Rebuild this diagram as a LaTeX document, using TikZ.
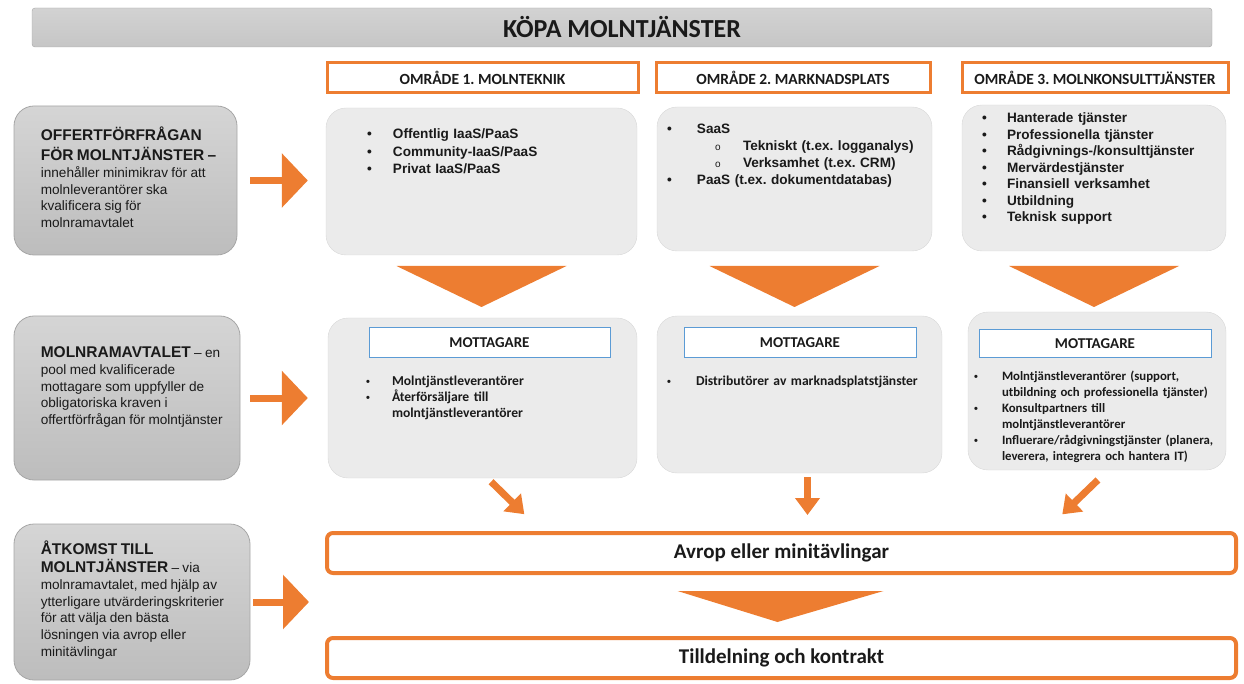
\documentclass[tikz,border=0pt]{standalone}
\usepackage{fontspec}
\setmainfont{Liberation Sans}
\newfontfamily\carlito{Carlito}
\usetikzlibrary{arrows.meta,positioning,calc}
\frenchspacing
\definecolor{accent}{HTML}{ED7D31}
\definecolor{panel}{HTML}{EBEBEB}
\definecolor{edge}{HTML}{A6A6A6}
\definecolor{sky}{HTML}{5B9BD5}
\definecolor{ink}{HTML}{1A1A1A}
\tikzset{titlebar/.style={draw=edge,top color=gray!35,bottom color=gray!45,rounded corners=3pt,
 minimum width=1180pt,minimum height=39pt,font=\carlito\bfseries\fontsize{26}{28}\selectfont},
 sidebox/.style={draw=edge,top color=gray!33,bottom color=gray!52,rounded corners=20pt,line width=.8pt},
 sidetxt/.style={inner sep=0pt,text width=215pt,align=left},
 area/.style={draw=accent,fill=white,line width=3pt,minimum height=30pt,
 font=\carlito\bfseries\fontsize{15.5}{17}\selectfont},
 panelbox/.style={fill=panel,draw=panel!92!black,line width=.4pt,rounded corners=20pt},
 listtxt/.style={inner sep=0pt,text width=260pt,align=left,font=\bfseries\fontsize{13.6}{16.5}\selectfont},
 recvtxt/.style={inner sep=0pt,text width=260pt,align=left,font=\carlito\bfseries\fontsize{13.6}{16}\selectfont},
 recv/.style={draw=sky,fill=white,line width=1pt,font=\carlito\bfseries\fontsize{15}{17}\selectfont},
 stage/.style={draw=accent,fill=white,line width=4pt,rounded corners=6pt,minimum width=909pt,
 minimum height=40pt,font=\carlito\bfseries\fontsize{21}{23}\selectfont},
 bigarr/.style={-{Triangle[width=53pt,length=26pt]},line width=7pt,draw=accent},
 smallarr/.style={-{Triangle[width=24pt,length=17pt]},line width=7pt,draw=accent}}
\newcommand{\bul}[1][26pt]{\makebox[#1][l]{\textbullet}}
\newcommand{\smallbul}[1][26pt]{\makebox[#1][l]{\rmfamily\fontsize{11}{11}\selectfont\textbullet}}

\begin{document}
\begin{tikzpicture}[x=1pt,y=-1pt,text=ink]
\useasboundingbox (0,0) rectangle (1244,684);
\node[titlebar] (title) at (622,27.5) {KÖPA MOLNTJÄNSTER};
\node[area,minimum width=311pt] (hdr1) at (482.5,78) {OMRÅDE 1. MOLNTEKNIK};
\node[area,minimum width=274pt] (hdr2) at (793,78) {OMRÅDE 2. MARKNADSPLATS};
\node[area,minimum width=266pt] (hdr3) at (1095,78) {OMRÅDE 3. MOLNKONSULTTJÄNSTER};
\node[panelbox,minimum width=311pt,minimum height=147pt] (mt1) at (481.5,181.5) {};
\node[panelbox,minimum width=275pt,minimum height=144pt] (mt2) at (794.5,179) {};
\node[panelbox,minimum width=264pt,minimum height=146pt] (mt3) at (1094,178) {};
\node[listtxt,font=\bfseries\fontsize{13.6}{17.5}\selectfont,below right=21pt and 41pt of mt1.north west] (mt1list)
 {\bul Offentlig IaaS/PaaS\\\bul Community-IaaS/PaaS\\\bul Privat IaaS/PaaS};
\node[listtxt,font=\bfseries\fontsize{13.6}{17}\selectfont,below right=17pt and 10pt of mt2.north west] (mt2list)
 {\bul[30pt]SaaS\\\hspace*{76pt}\llap{\makebox[28pt][l]{\mdseries\fontsize{10}{10}\selectfont o}}Tekniskt (t.ex. logganalys)\\
 \hspace*{76pt}\llap{\makebox[28pt][l]{\mdseries\fontsize{10}{10}\selectfont o}}Verksamhet (t.ex. CRM)\\\bul[30pt]PaaS (t.ex. dokumentdatabas)};
\node[listtxt,below right=8pt and 20pt of mt3.north west] (mt3list)
 {\bul[25pt]Hanterade tjänster\\\bul[25pt]Professionella tjänster\\\bul[25pt]Rådgivnings-/konsulttjänster\\
 \bul[25pt]Mervärdestjänster\\\bul[25pt]Finansiell verksamhet\\\bul[25pt]Utbildning\\\bul[25pt]Teknisk support};
\foreach \n in {1,2,3}
 \fill[accent] ($(mt\n.south|-0,266)+(-85,0)$) -- ($(mt\n.south|-0,266)+(85,0)$) -- ($(mt\n.south|-0,307)$) -- cycle;
\node[panelbox,minimum width=309pt,minimum height=160pt] (mm1) at (482.5,398) {};
\node[panelbox,minimum width=285pt,minimum height=157pt] (mm2) at (799.5,394.5) {};
\node[panelbox,minimum width=258pt,minimum height=158pt] (mm3) at (1097,391) {};
\node[recv,minimum width=241pt,minimum height=29pt] (rc1) at (489.5,342.5) {MOTTAGARE};
\node[recv,minimum width=232pt,minimum height=29pt] (rc2) at (800,342.5) {MOTTAGARE};
\node[recv,minimum width=232pt,minimum height=27pt] (rc3) at (1095,343.5) {MOTTAGARE};
\node[recvtxt,below right=18pt and 38pt of mm1.north west|-rc1.south] (mm1list)
 {\smallbul Molntjänstleverantörer\\\smallbul Återförsäljare till\\\hspace*{26pt}molntjänstleverantörer};
\node[recvtxt,below right=18pt and 10pt of mm2.north west|-rc2.south] (mm2list)
 {\smallbul[29pt]Distributörer av marknadsplatstjänster};
\node[recvtxt,font=\carlito\bfseries\fontsize{12.8}{16}\selectfont,below right=13pt and 6pt of mm3.north west|-rc3.south] (mm3list)
 {\smallbul[28pt]Molntjänstleverantörer (support,\\\hspace*{28pt}utbildning och professionella tjänster)\\
 \smallbul[28pt]Konsultpartners till\\\hspace*{28pt}molntjänstleverantörer\\
 \smallbul[28pt]Influerare/rådgivningstjänster (planera,\\\hspace*{28pt}leverera, integrera och hantera IT)};
\node[stage] (call) at (781.5,553) {Avrop eller minitävlingar};
\node[stage] (award) at (781.5,658) {Tilldelning och kontrakt};
\fill[accent] ($(call.south)+(-104,16)$) -- ($(call.south)+(102,16)$) -- ($(call.south)+(-4,47)$) -- cycle;
\draw[smallarr,shorten <=5pt,shorten >=24pt] ([xshift=5pt]mm1.south) -- ([xshift=-240pt]call.north);
\draw[smallarr,shorten <=4pt,shorten >=16pt] ([xshift=8pt]mm2.south) -- ([xshift=8pt]mm2.south|-call.north);
\draw[smallarr,shorten <=14pt,shorten >=24pt] ([xshift=11pt]mm3.south) -- ([xshift=263.5pt]call.north);
\node[sidebox,minimum width=223pt,minimum height=149pt] (req) at (125.5,180.5) {};
\node[sidebox,minimum width=226pt,minimum height=164pt] (pool) at (127,398) {};
\node[sidebox,minimum width=236pt,minimum height=156pt] (access) at (132,602) {};
\node[sidetxt,right=27pt of req.west,yshift=3pt] (reqtxt)
 {\bfseries\fontsize{15.5}{20}\selectfont OFFERTFÖRFRÅGAN\\FÖR MOLNTJÄNSTER –\par
 \mdseries\fontsize{13.6}{16.7}\selectfont innehåller minimikrav för att\\molnleverantörer ska\\kvalificera sig för\\molnramavtalet\par};
\node[sidetxt,right=27pt of pool.west,yshift=11pt] (pooltxt)
 {\fontsize{13.6}{16.7}\selectfont{\bfseries\fontsize{15.5}{17}\selectfont MOLNRAMAVTALET} – en\\pool med kvalificerade\\
 mottagare som uppfyller de\\obligatoriska kraven i\\offertförfrågan för molntjänster\par};
\node[sidetxt,right=27pt of access.west,yshift=2pt] (accesstxt)
 {\fontsize{13.6}{16.7}\selectfont{\bfseries\fontsize{15.5}{17}\selectfont ÅTKOMST TILL}\\[1.5pt]{\bfseries\fontsize{15.5}{17}\selectfont MOLNTJÄNSTER} – via\\
 molnramavtalet, med hjälp av\\ytterligare utvärderingskriterier\\för att välja den bästa\\lösningen via avrop eller\\minitävlingar\par};
\draw[bigarr,shorten <=13pt,shorten >=18pt] (req.east) -- (req.east-|mt1.west);
\draw[bigarr,shorten <=10pt,shorten >=20pt] (pool.east) -- (pool.east-|mm1.west);
\draw[bigarr,shorten <=3pt,shorten >=16pt] (access.east) -- (access.east-|call.west);
\end{tikzpicture}
\end{document}
